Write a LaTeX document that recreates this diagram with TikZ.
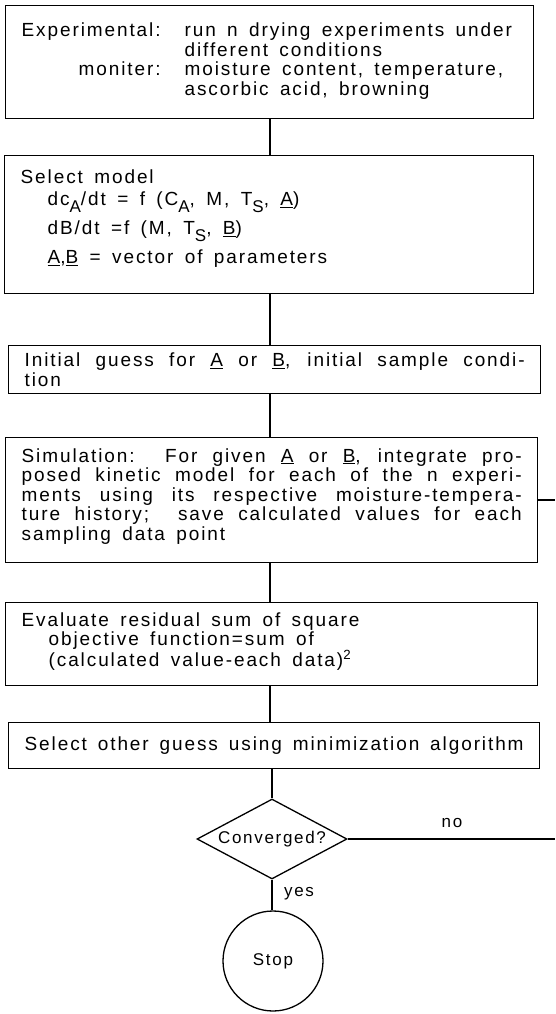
\documentclass[tikz,border=0pt]{standalone}
\usepackage{fontspec}
\setmainfont{Liberation Sans}[LetterSpace=10]
\usetikzlibrary{shapes.geometric}
\newcommand{\jl}[2][500pt]{\makebox[#1][s]{\spaceskip=0.42em plus 1fil\relax #2}}
\newcommand{\lowsub}[1]{\raisebox{-7pt}{\fontsize{17}{17}\selectfont #1}}
\newcommand{\padbot}[1]{\rule[-#1]{0pt}{#1}}
\newcommand{\boxfont}{\fontsize{19}{19.5}\selectfont}
\newcommand{\smallfont}{\fontsize{17}{19}\selectfont}
\begin{document}
\begin{tikzpicture}[x=1pt,y=-1pt,
  every node/.style={font=\boxfont},
  box/.style={draw, line width=1.3pt, rectangle, anchor=north west,
    inner xsep=16pt, inner ysep=0pt, align=left,
    execute at begin node={\spaceskip=0.6em plus 0.1em minus 0.05em\relax}},
  link/.style={line width=1.3pt},
  small/.style={font=\smallfont},
  lbl/.style={inner sep=0pt, small}]
\useasboundingbox (0,0) rectangle (555,1014);
\coordinate (col) at (270,0);
\node[box, minimum width=528, minimum height=113, text width=496] (b1) at (5,5)
 {\begin{tabular}{@{}r@{\hspace{24pt}}l@{}}
  Experimental: & run n drying experiments under\\
   & different conditions\\
  moniter: & moisture content, temperature,\\
   & ascorbic acid, browning
 \end{tabular}};
\node[box, minimum width=529, minimum height=138, text width=497] (b2) at (4,155)
 {Select model\\[3pt]
  \hspace*{27pt}dc\lowsub{A}/dt = f (C\lowsub{A}, M, T\lowsub{S}, \underline{A})\\[7pt]
  \hspace*{27pt}dB/dt =f (M, T\lowsub{S}, \underline{B})\\[7pt]
  \hspace*{27pt}\underline{A},\underline{B} = vector of parameters\padbot{16pt}};
\node[box, minimum width=532, minimum height=48, text width=500] (b3) at (8,345)
 {\jl{Initial guess for \underline{A} or \underline{B}, initial sample condi-}\\
  tion};
\node[box, minimum width=532, minimum height=125, text width=500] (b4) at (5,437)
 {\jl{Simulation:\ \ For given \underline{A} or \underline{B}, integrate pro-}\\
  \jl{posed kinetic model for each of the n experi-}\\
  \jl{ments using its respective\ moisture-tempera-}\\
  \jl{ture history;\ \ save calculated values for each}\\
  sampling data point\padbot{12pt}};
\node[box, minimum width=532, minimum height=83, text width=500] (b5) at (5,602)
 {Evaluate residual sum of square\\
  \hspace*{27pt}objective function=sum of\\
  \hspace*{27pt}(calculated value-each data)\textsuperscript{2}\padbot{10pt}};
\node[box, minimum width=531, minimum height=46, text width=499] (b6) at (8,722)
 {\jl[499pt]{Select other guess using minimization algorithm}};
\node[draw, line width=1.3pt, diamond, aspect=2, inner sep=0pt, small,
  minimum width=150, minimum height=80] (dia) at (272,839) {Converged?};
\node[draw, line width=1.3pt, circle, inner sep=0pt, small, minimum size=100] (stop) at (273,961) {Stop};
\coordinate (r1) at (555,500);
\coordinate (r2) at (555,839);
\draw[link] (b1.south -| col) -- (b2.north -| col);
\draw[link] (b2.south -| col) -- (b3.north -| col);
\draw[link] (b3.south -| col) -- (b4.north -| col);
\draw[link] (b4.south -| col) -- (b5.north -| col);
\draw[link] (b5.south -| col) -- (b6.north -| col);
\draw[link] (b6.south -| dia.north) -- (dia.north);
\draw[link] (dia.south) -- (stop.north -| dia.south);
\draw[link] (b4.east |- r1) -- (r1);
\draw[link] (dia.east) -- (r2);
\node[lbl] (no) at (452,823) {no};
\node[lbl] (yes) at (299,894) {yes};
\end{tikzpicture}
\end{document}
